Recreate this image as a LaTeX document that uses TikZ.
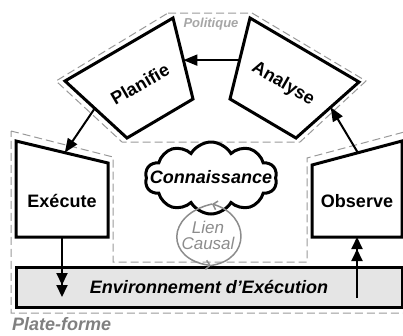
\documentclass[tikz,border=0pt]{standalone}
\usepackage{fontspec}
\setmainfont{Liberation Sans}
\usetikzlibrary{arrows.meta,shapes.symbols,calc}

\tikzstyle{stage} = [draw=black, line width=3pt, fill=white, line join=miter]
\tikzstyle{stagetext} = [font=\fontsize{18}{20}\selectfont\bfseries, inner sep=0pt]
\tikzstyle{zone} = [draw=black!40, line width=1pt, dash pattern=on 8pt off 4pt]
\tikzstyle{zonetext} = [font=\fontsize{18}{20}\selectfont\bfseries\itshape, text=black!50, inner sep=0pt]
\tikzstyle{envbar} = [draw=black, line width=3pt, fill=black!10, minimum width=386pt, minimum height=40pt, inner sep=0pt, font=\fontsize{18}{20}\selectfont\bfseries\itshape]
\tikzstyle{arrow} = [line width=2pt, -{Triangle[length=14pt,width=11pt]}]
\tikzstyle{dblarrow} = [line width=2pt, -{Triangle[length=12pt,width=11pt]Triangle[length=12pt,width=11pt]}]
\tikzstyle{causal} = [draw=black!45, line width=1.5pt, -{Straight Barb[length=4pt,width=9pt]}]

\begin{document}
\begin{tikzpicture}[x=1pt, y=-1pt]
	\useasboundingbox (0,0) rectangle (403,335);
	\clip (0,0) rectangle (403,335);
	% Zones
	\draw [zone] (11,131) -- (113,157) -- (113,262) -- (307,262) -- (307,158) -- (408,131) -- (408,313) -- (11,313) -- cycle;
	\draw [zone] (168,13) -- (252,13) -- (366,81) -- (300,142) -- (122,142) -- (56,81) -- cycle;
	\node [zonetext, font=\fontsize{13}{15}\selectfont\bfseries\itshape, text=black!35] (politique) at (211,24) {Politique};
	\node [zonetext, anchor=west] (plateforme) at (12,324) {Plate-forme};
	% Corners of the stages
	\coordinate (P1) at (173,18);  \coordinate (P2) at (193,99);  \coordinate (P3) at (127,138); \coordinate (P4) at (65,81);
	\coordinate (A1) at (250,18);  \coordinate (A2) at (359,82);  \coordinate (A3) at (296,138); \coordinate (A4) at (230,99);
	\coordinate (E1) at (16,141);  \coordinate (E2) at (108,163); \coordinate (E3) at (108,237); \coordinate (E4) at (16,237);
	\coordinate (O1) at (312,165); \coordinate (O2) at (402,141); \coordinate (O3) at (402,237); \coordinate (O4) at (312,237);
	\draw [stage] (P1) -- (P2) -- (P3) -- (P4) -- cycle;
	\draw [stage] (A1) -- (A2) -- (A3) -- (A4) -- cycle;
	\draw [stage] (E1) -- (E2) -- (E3) -- (E4) -- cycle;
	\draw [stage] (O1) -- (O2) -- (O3) -- (O4) -- cycle;
	% Place nodes
	\node [stagetext, rotate=30] (planifie) at (140,84) {Planifie};
	\node [stagetext, rotate=-30] (analyse) at (283,84) {Analyse};
	\node [stagetext] (execute) at (62,201) {Exécute};
	\node [stagetext] (observe) at (357,201) {Observe};
	\node [envbar] (env) at (209,287) {Environnement d’Exécution};
	\node [cloud, cloud puffs=10, cloud puff arc=120, cloud ignores aspect, draw, line width=3pt, fill=white, minimum width=132pt, minimum height=72pt, inner sep=0pt] (know) at (211,178) {};
	\node [stagetext, font=\fontsize{18}{20}\selectfont\bfseries\itshape] (knowtext) at (211,177) {Connaissance};
	\node [align=center, text=black!45, font=\fontsize{17}{16}\selectfont\itshape, inner sep=0pt] (lien) at (208,235) {Lien\\Causal};
	% Arrow ends
	\coordinate (A-out) at ($(A1)!.52!(A4)$);
	\coordinate (P-in) at ($(P1)!.52!(P2)$);
	\coordinate (P-out) at ($(P4)!.48!(P3)$);
	\coordinate (E-in) at ($(E1)!.53!(E2)$);
	\coordinate (E-bot) at ($(E3)!.5!(E4)$);
	\coordinate (E-env) at (E-bot |- 0,297);
	\coordinate (O-bot) at ($(O3)!.5!(O4)$);
	\coordinate (O-env) at (O-bot |- 0,298);
	\coordinate (O-out) at ($(O1)!.51!(O2)$);
	\coordinate (A-in) at ($(A3)!.55!(A2)$);
	\coordinate (lien-top) at (212,204);
	\coordinate (lien-bot) at (know.south |- env.north);
	% Draw edges
	\draw [arrow] (A-out) -- (P-in);
	\draw [arrow] (P-out) -- (E-in);
	\draw [arrow] (O-out) -- (A-in);
	\draw [dblarrow] (E-bot) -- (E-env);
	\draw [dblarrow] (O-env) -- (O-bot);
	\draw [causal] (lien-top) .. controls +(-47,11) and +(-45,-6) .. (lien-bot);
	\draw [causal] (lien-bot) .. controls +(40,-6) and +(38,11) .. (lien-top);
\end{tikzpicture}
\end{document}
